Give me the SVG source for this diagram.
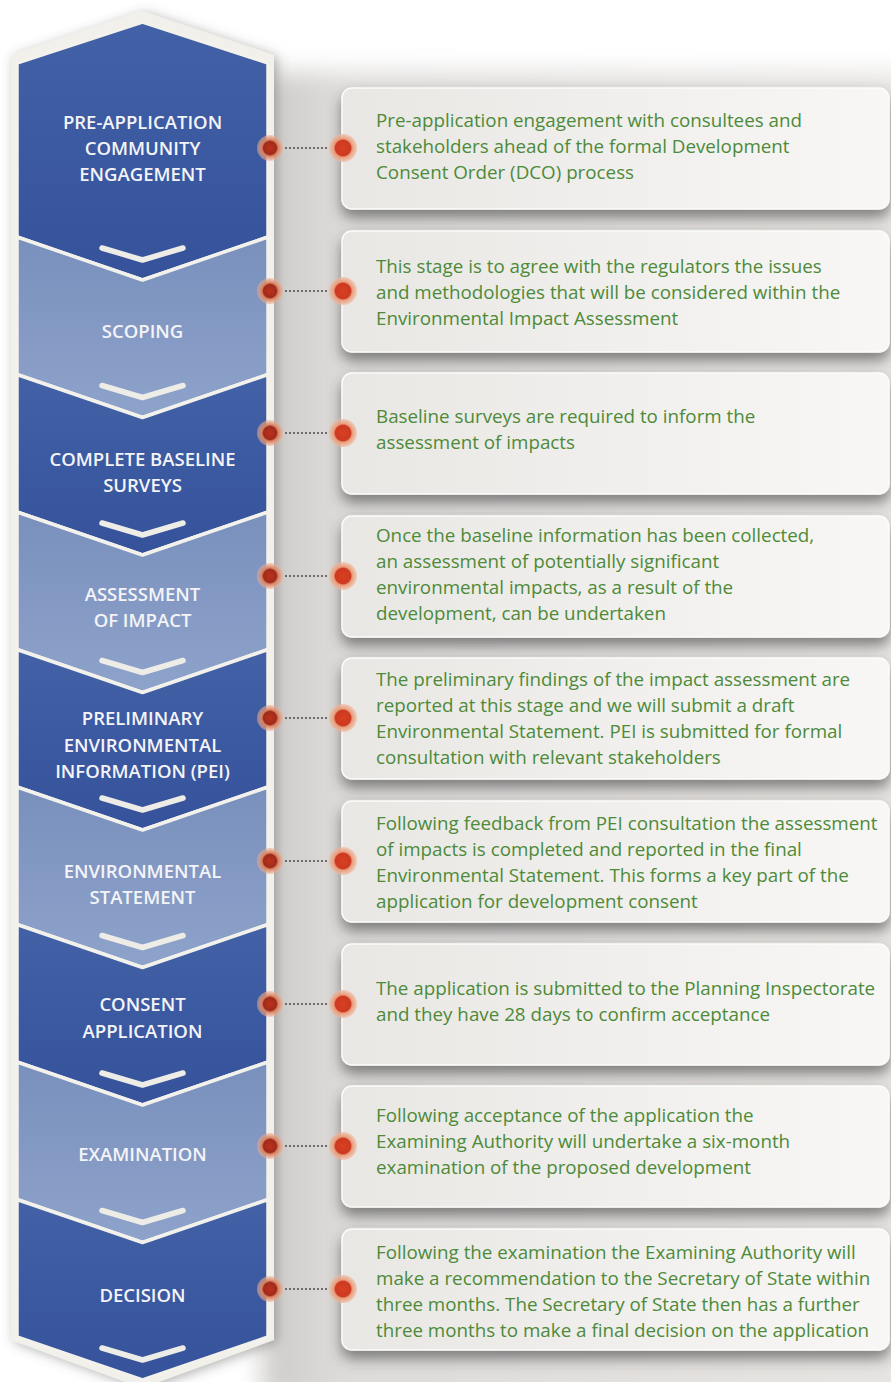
<svg xmlns="http://www.w3.org/2000/svg" width="891" height="1382" viewBox="0 0 891 1382">
<defs>
<linearGradient id="gDark" x1="0" y1="0" x2="0" y2="1"><stop offset="0" stop-color="#4261a6"/><stop offset="1" stop-color="#35529b"/></linearGradient>
<linearGradient id="gLight" x1="0" y1="0" x2="0" y2="1"><stop offset="0" stop-color="#7990bd"/><stop offset="1" stop-color="#8ea3ca"/></linearGradient>
<linearGradient id="gBox" x1="0" y1="0" x2="1" y2="0"><stop offset="0" stop-color="#e9e7e4"/><stop offset="1" stop-color="#f8f7f5"/></linearGradient>
<linearGradient id="gPanel" x1="0" y1="0" x2="1" y2="0"><stop offset="0" stop-color="#cdcbc9"/><stop offset="0.12" stop-color="#dddbd9"/><stop offset="1" stop-color="#e6e4e2"/></linearGradient>
<radialGradient id="gDotL"><stop offset="0" stop-color="#c0301c"/><stop offset="0.5" stop-color="#9c2c1c"/><stop offset="0.62" stop-color="#d9805e"/><stop offset="1" stop-color="#eab096" stop-opacity="0.5"/></radialGradient>
<radialGradient id="gDotR"><stop offset="0" stop-color="#d8401f"/><stop offset="0.55" stop-color="#cc3a22"/><stop offset="0.65" stop-color="#e99a78"/><stop offset="1" stop-color="#f0b79c" stop-opacity="0.6"/></radialGradient>
<filter id="fBox" x="-10%" y="-20%" width="120%" height="160%"><feDropShadow dx="0" dy="8" stdDeviation="7" flood-color="#3e3c3a" flood-opacity="0.6"/></filter>
<filter id="fCol" x="-20%" y="-5%" width="140%" height="110%"><feDropShadow dx="3" dy="2" stdDeviation="6" flood-color="#555" flood-opacity="0.45"/></filter>
<filter id="fBlur" x="-10%" y="-10%" width="120%" height="120%"><feGaussianBlur stdDeviation="12"/></filter>
</defs>
<style>
.dark{fill:url(#gDark);stroke:#f3f1ec;stroke-width:3.5;stroke-linejoin:round}
.light{fill:url(#gLight);stroke:#f3f1ec;stroke-width:3.5;stroke-linejoin:round}
.mark{fill:none;stroke:#eeece6;stroke-width:5.5;stroke-linecap:round;stroke-linejoin:round}
.lbl{font-family:"Open Sans","Liberation Sans",sans-serif;font-weight:600;font-size:18.5px;fill:#f4f4f8;text-anchor:middle}
.box{fill:url(#gBox);stroke:#fbfbfa;stroke-width:1.5;filter:url(#fBox)}
.txt{font-family:"Open Sans","Liberation Sans",sans-serif;font-size:18.8px;fill:#4d8a39}
.dl{fill:url(#gDotL)}
.dr{fill:url(#gDotR)}
.dot{stroke:#6e6c6a;stroke-width:2;stroke-dasharray:2 2}
</style>
<rect width="891" height="1382" fill="#ffffff"/>
<rect x="262" y="72" width="650" height="1330" fill="url(#gPanel)" filter="url(#fBlur)"/>
<path d="M142,11 L11,55 L11,1340 L142,1388 L274,1340 L274,55 Z" fill="#f2f0eb" filter="url(#fCol)"/>

<g id="step1">
<path class="dark" d="M17,63 L142.5,22 L268,63 L268,237 L142.5,280 L17,237 Z"/>
<path class="mark" d="M102,248 L142.5,260 L183,248"/>
<text class="lbl"><tspan x="142.5" y="129">PRE-APPLICATION</tspan><tspan x="142.5" y="155">COMMUNITY</tspan><tspan x="142.5" y="181">ENGAGEMENT</tspan></text>
<rect class="box" x="342" y="88" width="547" height="121" rx="10"/>
<text class="txt"><tspan x="376" y="127">Pre-application engagement with consultees and</tspan><tspan x="376" y="153">stakeholders ahead of the formal Development</tspan><tspan x="376" y="179">Consent Order (DCO) process</tspan></text>
</g>

<g id="step2">
<path class="light" d="M17,237 L142.5,280 L268,237 L268,374.5 L142.5,417.5 L17,374.5 Z"/>
<path class="mark" d="M102,385.5 L142.5,397.5 L183,385.5"/>
<text class="lbl"><tspan x="142.5" y="338">SCOPING</tspan></text>
<rect class="box" x="342" y="231" width="547" height="121" rx="10"/>
<text class="txt"><tspan x="376" y="273">This stage is to agree with the regulators the issues</tspan><tspan x="376" y="299">and methodologies that will be considered within the</tspan><tspan x="376" y="325">Environmental Impact Assessment</tspan></text>
</g>

<g id="step3">
<path class="dark" d="M17,374.5 L142.5,417.5 L268,374.5 L268,512 L142.5,555 L17,512 Z"/>
<path class="mark" d="M102,523 L142.5,535 L183,523"/>
<text class="lbl"><tspan x="142.5" y="466">COMPLETE BASELINE</tspan><tspan x="142.5" y="492">SURVEYS</tspan></text>
<rect class="box" x="342" y="373" width="547" height="121" rx="10"/>
<text class="txt"><tspan x="376" y="423">Baseline surveys are required to inform the</tspan><tspan x="376" y="449">assessment of impacts</tspan></text>
</g>

<g id="step4">
<path class="light" d="M17,512 L142.5,555 L268,512 L268,649.5 L142.5,692.5 L17,649.5 Z"/>
<path class="mark" d="M102,660.5 L142.5,672.5 L183,660.5"/>
<text class="lbl"><tspan x="142.5" y="601">ASSESSMENT</tspan><tspan x="142.5" y="627">OF IMPACT</tspan></text>
<rect class="box" x="342" y="516" width="547" height="121" rx="10"/>
<text class="txt"><tspan x="376" y="542">Once the baseline information has been collected,</tspan><tspan x="376" y="568">an assessment of potentially significant</tspan><tspan x="376" y="594">environmental impacts, as a result of the</tspan><tspan x="376" y="620">development, can be undertaken</tspan></text>
</g>

<g id="step5">
<path class="dark" d="M17,649.5 L142.5,692.5 L268,649.5 L268,787 L142.5,830 L17,787 Z"/>
<path class="mark" d="M102,798 L142.5,810 L183,798"/>
<text class="lbl"><tspan x="142.5" y="725">PRELIMINARY</tspan><tspan x="142.5" y="752">ENVIRONMENTAL</tspan><tspan x="142.5" y="778">INFORMATION (PEI)</tspan></text>
<rect class="box" x="342" y="658" width="547" height="121" rx="10"/>
<text class="txt"><tspan x="376" y="686">The preliminary findings of the impact assessment are</tspan><tspan x="376" y="712">reported at this stage and we will submit a draft</tspan><tspan x="376" y="738">Environmental Statement. PEI is submitted for formal</tspan><tspan x="376" y="764">consultation with relevant stakeholders</tspan></text>
</g>

<g id="step6">
<path class="light" d="M17,787 L142.5,830 L268,787 L268,924.5 L142.5,967.5 L17,924.5 Z"/>
<path class="mark" d="M102,935.5 L142.5,947.5 L183,935.5"/>
<text class="lbl"><tspan x="142.5" y="878">ENVIRONMENTAL</tspan><tspan x="142.5" y="904">STATEMENT</tspan></text>
<rect class="box" x="342" y="801" width="547" height="121" rx="10"/>
<text class="txt"><tspan x="376" y="830">Following feedback from PEI consultation the assessment</tspan><tspan x="376" y="856">of impacts is completed and reported in the final</tspan><tspan x="376" y="882">Environmental Statement. This forms a key part of the</tspan><tspan x="376" y="908">application for development consent</tspan></text>
</g>

<g id="step7">
<path class="dark" d="M17,924.5 L142.5,967.5 L268,924.5 L268,1062 L142.5,1105 L17,1062 Z"/>
<path class="mark" d="M102,1073 L142.5,1085 L183,1073"/>
<text class="lbl"><tspan x="142.5" y="1011">CONSENT</tspan><tspan x="142.5" y="1038">APPLICATION</tspan></text>
<rect class="box" x="342" y="944" width="547" height="121" rx="10"/>
<text class="txt"><tspan x="376" y="995">The application is submitted to the Planning Inspectorate</tspan><tspan x="376" y="1021">and they have 28 days to confirm acceptance</tspan></text>
</g>

<g id="step8">
<path class="light" d="M17,1062 L142.5,1105 L268,1062 L268,1199.5 L142.5,1242.5 L17,1199.5 Z"/>
<path class="mark" d="M102,1210.5 L142.5,1222.5 L183,1210.5"/>
<text class="lbl"><tspan x="142.5" y="1161">EXAMINATION</tspan></text>
<rect class="box" x="342" y="1086" width="547" height="121" rx="10"/>
<text class="txt"><tspan x="376" y="1122">Following acceptance of the application the</tspan><tspan x="376" y="1148">Examining Authority will undertake a six-month</tspan><tspan x="376" y="1174">examination of the proposed development</tspan></text>
</g>

<g id="step9">
<path class="dark" d="M17,1199.5 L142.5,1242.5 L268,1199.5 L268,1337 L142.5,1380 L17,1337 Z"/>
<path class="mark" d="M102,1348 L142.5,1360 L183,1348"/>
<text class="lbl"><tspan x="142.5" y="1302">DECISION</tspan></text>
<rect class="box" x="342" y="1229" width="547" height="121" rx="10"/>
<text class="txt"><tspan x="376" y="1259">Following the examination the Examining Authority will</tspan><tspan x="376" y="1285">make a recommendation to the Secretary of State within</tspan><tspan x="376" y="1311">three months. The Secretary of State then has a further</tspan><tspan x="376" y="1337">three months to make a final decision on the application</tspan></text>
</g>

<g id="connectors">
<line class="dot" x1="285" y1="148" x2="329" y2="148"/><circle class="dl" cx="270" cy="148" r="13"/><circle class="dr" cx="343" cy="148" r="14"/>
<line class="dot" x1="285" y1="291" x2="329" y2="291"/><circle class="dl" cx="270" cy="291" r="13"/><circle class="dr" cx="343" cy="291" r="14"/>
<line class="dot" x1="285" y1="433" x2="329" y2="433"/><circle class="dl" cx="270" cy="433" r="13"/><circle class="dr" cx="343" cy="433" r="14"/>
<line class="dot" x1="285" y1="576" x2="329" y2="576"/><circle class="dl" cx="270" cy="576" r="13"/><circle class="dr" cx="343" cy="576" r="14"/>
<line class="dot" x1="285" y1="718" x2="329" y2="718"/><circle class="dl" cx="270" cy="718" r="13"/><circle class="dr" cx="343" cy="718" r="14"/>
<line class="dot" x1="285" y1="861" x2="329" y2="861"/><circle class="dl" cx="270" cy="861" r="13"/><circle class="dr" cx="343" cy="861" r="14"/>
<line class="dot" x1="285" y1="1004" x2="329" y2="1004"/><circle class="dl" cx="270" cy="1004" r="13"/><circle class="dr" cx="343" cy="1004" r="14"/>
<line class="dot" x1="285" y1="1146" x2="329" y2="1146"/><circle class="dl" cx="270" cy="1146" r="13"/><circle class="dr" cx="343" cy="1146" r="14"/>
<line class="dot" x1="285" y1="1289" x2="329" y2="1289"/><circle class="dl" cx="270" cy="1289" r="13"/><circle class="dr" cx="343" cy="1289" r="14"/>
</g>
</svg>
